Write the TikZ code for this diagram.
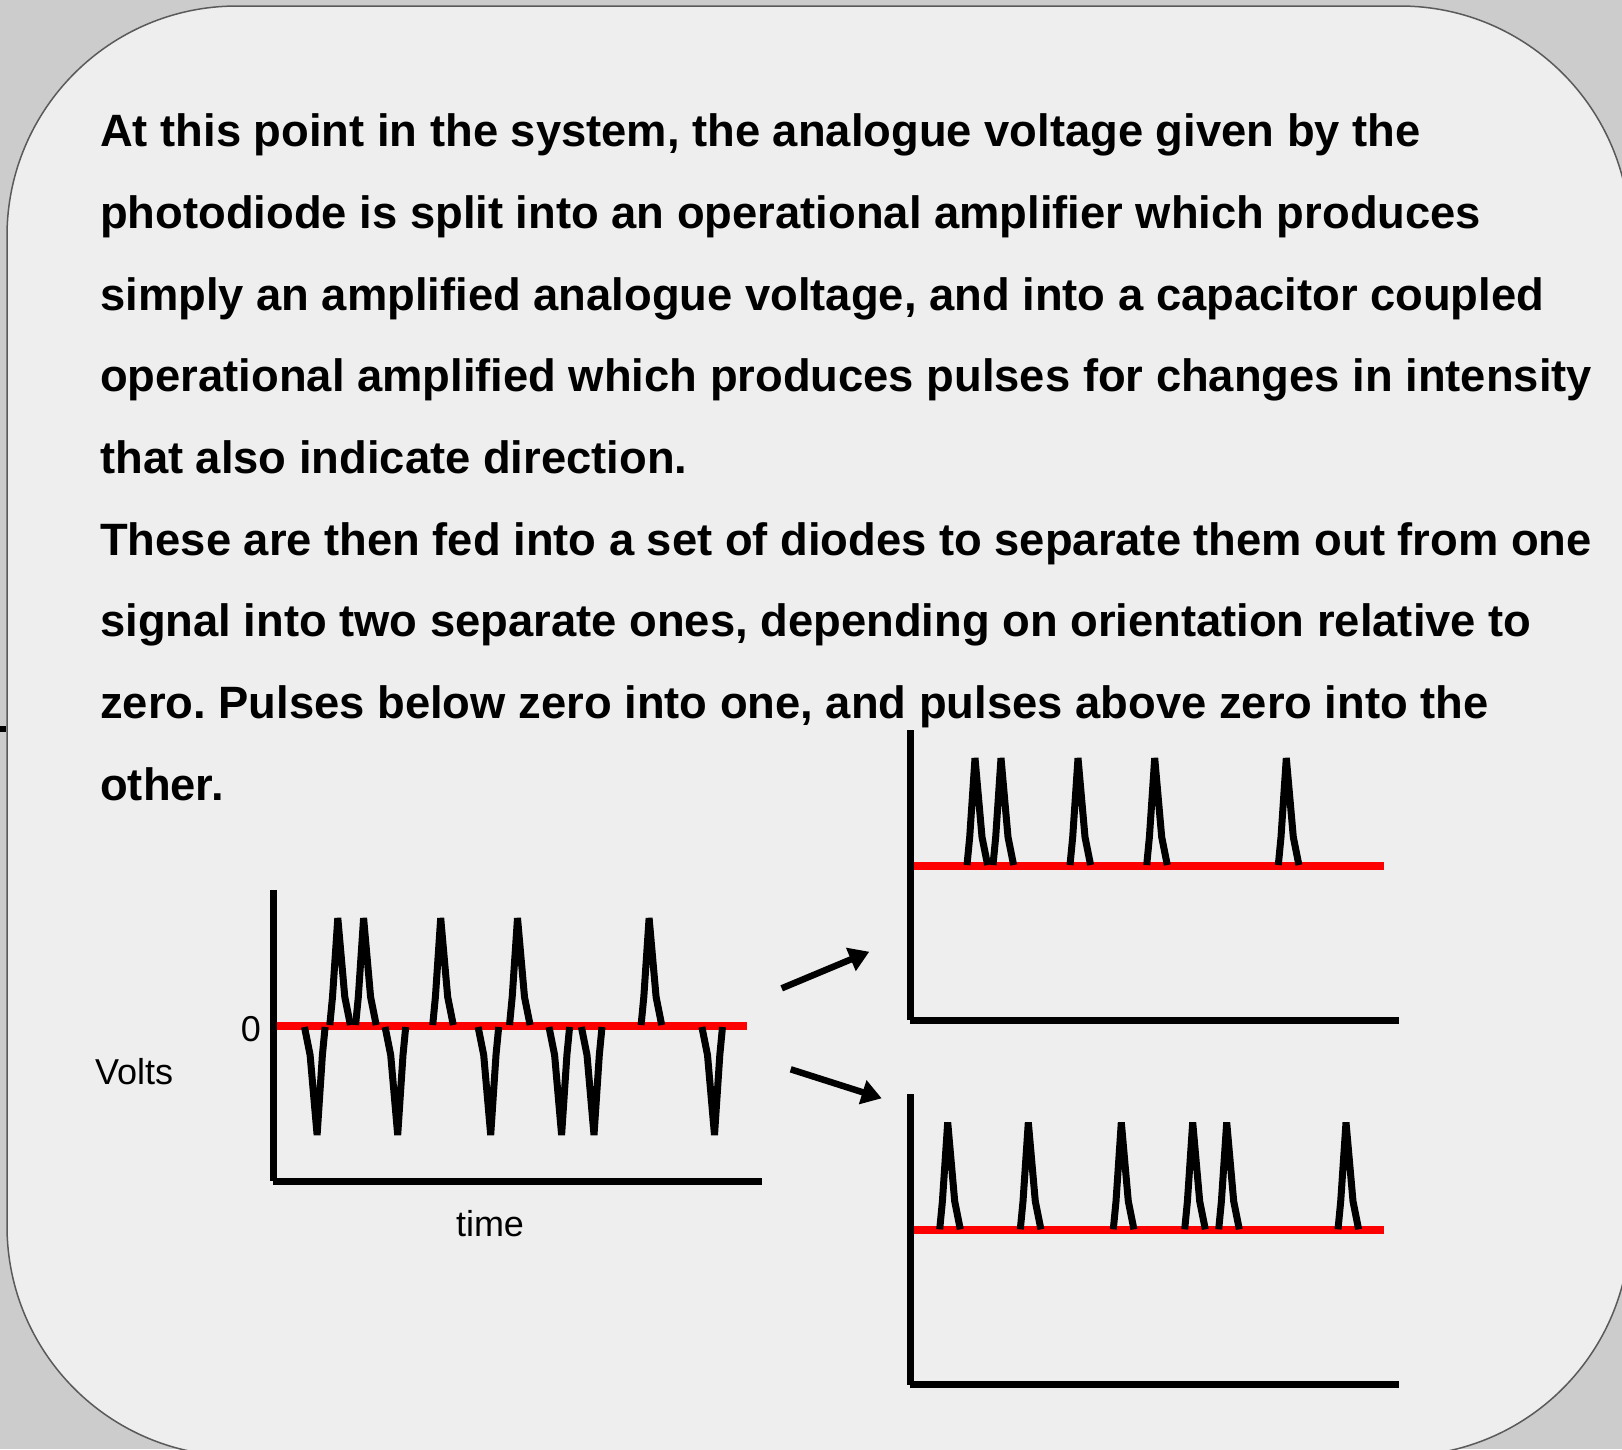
\documentclass[tikz,border=0pt]{standalone}
\usepackage{fontspec}
\setmainfont{Liberation Sans}
\usetikzlibrary{arrows.meta}
\definecolor{bggray}{HTML}{CCCCCC}
\definecolor{panelfill}{HTML}{EEEEEE}
\definecolor{panelline}{HTML}{5A5A5A}
\tikzset{
  bodytext/.style={anchor=base west, inner sep=0pt, font=\fontsize{45.35}{50}\selectfont\bfseries},
  labeltext/.style={inner sep=0pt, font=\fontsize{36}{40}\selectfont},
  axisline/.style={line width=7pt, black},
  zeroline/.style={line width=8pt, red},
  pulseline/.style={line width=7pt, black},
  flowarrow/.style={line width=6.5pt, -{Triangle[length=20pt,width=24pt]}},
  uppulse/.pic={\draw[pulseline] (-8,0) -- (-5.3,-28) -- (0,-107) -- (7,-28) -- (12.6,0);},
  downpulse/.pic={\draw[pulseline] (8,0) -- (5.3,28) -- (0,108) -- (-7,28) -- (-12.6,0);}
}
\begin{document}
\frenchspacing
\begin{tikzpicture}[x=1pt,y=-1pt]
\useasboundingbox (0,0) rectangle (1622,1449);
\clip (0,0) rectangle (1622,1449);
\fill[bggray] (0,0) rectangle (1622,1449);
\draw[panelline, line width=1.5pt, fill=panelfill, rounded corners=230pt] (7,6) rectangle (1630,1456);
% stray tick on left edge
\fill[black] (0,726) rectangle (6,732);

% body text
\node[bodytext] (l1) at (100,146.7) {At this point in the system, the analogue voltage given by the};
\node[bodytext] (l2) at (100,228.4) {photodiode is split into an operational amplifier which produces};
\node[bodytext] (l3) at (100,310.1) {simply an amplified analogue voltage, and into a capacitor coupled};
\node[bodytext] (l4) at (100,391.8) {operational amplified which produces pulses for changes in intensity};
\node[bodytext] (l5) at (100,473.5) {that also indicate direction.};
\node[bodytext] (l6) at (100,555.2) {These are then fed into a set of diodes to separate them out from one};
\node[bodytext] (l7) at (100,636.9) {signal into two separate ones, depending on orientation relative to};
\node[bodytext] (l8) at (100,718.6) {zero. Pulses below zero into one, and pulses above zero into the};
\node[bodytext] (l9) at (100,800.3) {other.};

% left graph
\draw[zeroline] (273,1026) -- (746.5,1026);
\foreach \c in {337.8,363.6,440.7,517.5,649.1} \pic at (\c,1025) {uppulse};
\foreach \c in {317.1,397.7,490.7,561.6,594,714.5} \pic at (\c,1027) {downpulse};
\draw[axisline] (273,890) -- (273,1181);
\draw[axisline] (273,1181) -- (762,1181);
\node[labeltext, anchor=base] (zero) at (250.8,1041.7) {0};
\node[labeltext, anchor=base west] (volts) at (95,1084.3) {Volts};
\node[labeltext, anchor=base] (time) at (490,1236.7) {time};

% top right graph
\draw[zeroline] (910,865.7) -- (1384.3,865.7);
\foreach \c in {975,1001,1078,1154.7,1286.3} \pic at (\c,865) {uppulse};
\draw[axisline] (910,730) -- (910,1020);
\draw[axisline] (910,1020) -- (1399,1020);

% bottom right graph
\draw[zeroline] (910,1230) -- (1384.3,1230);
\foreach \c in {947.7,1028.3,1121.3,1192.7,1226.7,1346} \pic at (\c,1229.3) {uppulse};
\draw[axisline] (910,1094.3) -- (910,1385);
\draw[axisline] (910,1384.3) -- (1399,1384.3);

% arrows
\coordinate (a1s) at (781.7,988.3);
\coordinate (a1e) at (869.3,951.7);
\coordinate (a2s) at (790.7,1069.3);
\coordinate (a2e) at (881.7,1098.3);
\draw[flowarrow] (a1s) -- (a1e);
\draw[flowarrow] (a2s) -- (a2e);
\end{tikzpicture}
\end{document}
